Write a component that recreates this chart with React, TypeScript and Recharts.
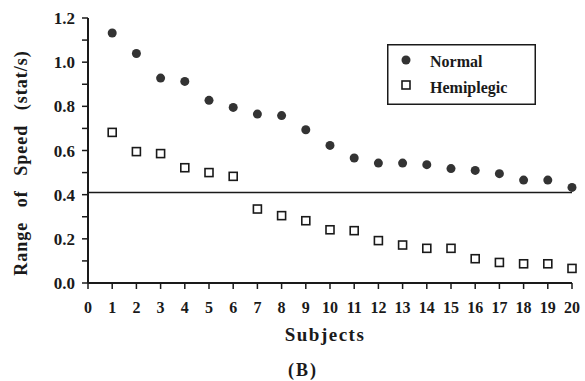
import React from 'react';
import { ScatterChart, Scatter, XAxis, YAxis, ReferenceLine, Legend } from 'recharts';

const subjects = [1, 2, 3, 4, 5, 6, 7, 8, 9, 10, 11, 12, 13, 14, 15, 16, 17, 18, 19, 20];
const normalSpeed = [1.132, 1.039, 0.928, 0.913, 0.827, 0.795, 0.765, 0.758, 0.694, 0.623, 0.566, 0.543, 0.543, 0.536, 0.518, 0.51, 0.495, 0.466, 0.466, 0.433];
const hemiplegicSpeed = [0.682, 0.595, 0.586, 0.522, 0.5, 0.483, 0.335, 0.305, 0.282, 0.241, 0.237, 0.192, 0.172, 0.157, 0.157, 0.11, 0.093, 0.087, 0.087, 0.066];
const xTicks = [0, 1, 2, 3, 4, 5, 6, 7, 8, 9, 10, 11, 12, 13, 14, 15, 16, 17, 18, 19, 20];
const yTicks = [0, 0.1, 0.2, 0.3, 0.4, 0.5, 0.6, 0.7, 0.8, 0.9, 1.0, 1.1, 1.2];
const thresholdSpeed = 0.41;

const normalData = subjects.map((s, i) => ({ subject: s, speed: normalSpeed[i] }));
const hemiplegicData = subjects.map((s, i) => ({ subject: s, speed: hemiplegicSpeed[i] }));

const FONT = 'Liberation Serif';
const INK = '#1a1a1a';

const Dot = (p: any) => <circle cx={p.cx} cy={p.cy} r={4.5} fill="#333" />;
const Square = (p: any) => (
  <rect x={p.cx - 4} y={p.cy - 4} width={8} height={8} fill="#fff" stroke={INK} strokeWidth={1.6} />
);

const LegendBox = () => (
  <svg width={149} height={61} style={{ display: 'block' }}>
    <rect x={0.75} y={0.75} width={147.5} height={59.5} fill="#fff" stroke={INK} strokeWidth={1.5} />
    <circle cx={19} cy={16} r={4.5} fill="#333" />
    <text x={43} y={17} style={{ fontFamily: FONT }} fontWeight="bold" fontSize={16} fill={INK} dominantBaseline="central">Normal</text>
    <rect x={15} y={37} width={8} height={8} fill="#fff" stroke={INK} strokeWidth={1.6} />
    <text x={43} y={43} style={{ fontFamily: FONT }} fontWeight="bold" fontSize={16} fill={INK} dominantBaseline="central">Hemiplegic</text>
  </svg>
);

const XLabel = (props: any) => {
  const vb = props.viewBox || { x: 88, y: 283, width: 484, height: 60 };
  const cx = vb.x + vb.width / 2;
  return (
    <g>
      <text x={cx - 5} y={vb.y + 51} textAnchor="middle" dominantBaseline="central" style={{ fontFamily: FONT }} fontWeight="bold" fontSize={19} letterSpacing={1.5} fill={INK}>Subjects</text>
      <text x={cx - 27} y={vb.y + 87} textAnchor="middle" dominantBaseline="central" style={{ fontFamily: FONT }} fontWeight="bold" fontSize={18} letterSpacing={2} fill={INK}>(B)</text>
    </g>
  );
};

const YLabel = () => {
  const x = 21;
  const y = 163;
  return (
    <text x={x} y={y} transform={`rotate(-90 ${x} ${y})`} textAnchor="middle" dominantBaseline="central" style={{ fontFamily: FONT }} fontWeight="bold" fontSize={18} letterSpacing={1} wordSpacing={9} fill={INK}>
      Range of Speed (stat/s)
    </text>
  );
};

export default function App() {
  return (
    <div style={{ position: 'absolute', left: 0, top: 0, width: 585, height: 381, background: '#fff', fontFamily: FONT }}>
      <ScatterChart width={585} height={381} margin={{ top: 18, right: 13, bottom: 38, left: 28 }} style={{ fontFamily: FONT }}>
        <XAxis
          type="number"
          dataKey="subject"
          domain={[0, 20]}
          ticks={xTicks}
          interval={0}
          height={60}
          tickSize={6}
          tickMargin={13}
          axisLine={{ stroke: INK, strokeWidth: 2 }}
          tickLine={{ stroke: INK, strokeWidth: 1.5 }}
          tick={{ fontFamily: FONT, fontWeight: 'bold', fontSize: 16, fill: INK }}
          label={XLabel}
        />
        <YAxis
          type="number"
          dataKey="speed"
          domain={[0, 1.2]}
          ticks={yTicks}
          interval={0}
          width={60}
          tickSize={6}
          tickMargin={7}
          axisLine={{ stroke: INK, strokeWidth: 2 }}
          tickLine={{ stroke: INK, strokeWidth: 1.5 }}
          tick={{ fontFamily: FONT, fontWeight: 'bold', fontSize: 17, fill: INK }}
          tickFormatter={(v: number) => (Math.round(v * 10) % 2 === 0 ? v.toFixed(1) : '')}
          label={YLabel}
        />
        <ReferenceLine y={thresholdSpeed} stroke={INK} strokeWidth={1.5} />
        <Scatter name="Normal" data={normalData} shape={Dot} isAnimationActive={false} />
        <Scatter name="Hemiplegic" data={hemiplegicData} shape={Square} isAnimationActive={false} />
        <Legend
          layout="vertical"
          align="center"
          verticalAlign="middle"
          content={LegendBox}
          wrapperStyle={{ position: 'absolute', left: 387, top: 44, width: 149, height: 61 }}
        />
      </ScatterChart>
    </div>
  );
}
